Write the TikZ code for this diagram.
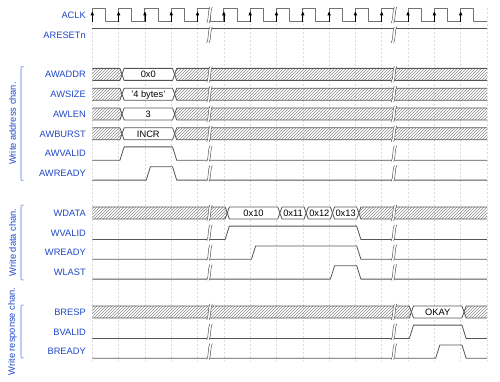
\documentclass[tikz,border=0pt]{standalone}
\usepackage{fontspec}
\setmainfont{Liberation Sans}
\usetikzlibrary{arrows.meta,patterns}

\definecolor{labelblue}{RGB}{30,70,200}
\definecolor{bracketblue}{RGB}{150,180,235}
\definecolor{wavegray}{RGB}{85,85,85}
\definecolor{clockgray}{RGB}{115,115,115}
\definecolor{hatchgray}{RGB}{140,140,140}

% clock period, first and last x of the waves (pt)
\def\per{26.31}
\def\xs{92.3}
\def\xe{487}

% 1-bit signal: row, rising edge, falling edge
\newcommand{\bitwave}[3]{%
  \pgfmathsetmacro\yc{15+19.8*#1}
  \pgfmathsetmacro\xa{\xs+\per*#2+1.3}
  \pgfmathsetmacro\xb{\xs+\per*#3+1.3}
  \draw[wave] (\xs,\yc+6.7) -- (\xa,\yc+6.7) -- (\xa+4.2,\yc-6.7)
    -- (\xb,\yc-6.7) -- (\xb+4.2,\yc+6.7) -- (\xe,\yc+6.7);
}
% hatched bus from the start up to an edge
\newcommand{\busleft}[2]{%
  \pgfmathsetmacro\yc{15+19.8*#1}
  \pgfmathsetmacro\xa{\xs+\per*#2+3.4}
  \fill[hatch] (\xs,\yc-6) -- (\xa-2.1,\yc-6) -- (\xa,\yc) -- (\xa-2.1,\yc+6) -- (\xs,\yc+6) -- cycle;
  \draw[bus] (\xs,\yc-6) -- (\xa-2.1,\yc-6) -- (\xa,\yc) -- (\xa-2.1,\yc+6) -- (\xs,\yc+6);
}
% hatched bus from an edge to the end
\newcommand{\busright}[2]{%
  \pgfmathsetmacro\yc{15+19.8*#1}
  \pgfmathsetmacro\xa{\xs+\per*#2+3.4}
  \fill[hatch] (\xe,\yc-6) -- (\xa+2.1,\yc-6) -- (\xa,\yc) -- (\xa+2.1,\yc+6) -- (\xe,\yc+6) -- cycle;
  \draw[bus] (\xe,\yc-6) -- (\xa+2.1,\yc-6) -- (\xa,\yc) -- (\xa+2.1,\yc+6) -- (\xe,\yc+6);
}
% bus value: row, from edge, to edge, name, text
\newcommand{\busval}[5]{%
  \pgfmathsetmacro\yc{15+19.8*#1}
  \pgfmathsetmacro\xa{\xs+\per*#2+3.4}
  \pgfmathsetmacro\xb{\xs+\per*#3+3.4}
  \draw[bus,fill=white] (\xa,\yc) -- (\xa+2.1,\yc-6) -- (\xb-2.1,\yc-6) -- (\xb,\yc)
    -- (\xb-2.1,\yc+6) -- (\xa+2.1,\yc+6) -- cycle;
  \node[valtext] (#4) at ({(\xa+\xb)/2},\yc+3.3) {#5};
}
% break mark: x, row
\newcommand{\brkmark}[2]{%
  \pgfmathsetmacro\yc{15+19.8*#2}
  \fill[white] (#1-3,\yc+8) .. controls (#1-1,\yc+4) and (#1-2,\yc-4) .. (#1,\yc-8)
    -- (#1+2.4,\yc-8) .. controls (#1+0.4,\yc-4) and (#1+1.4,\yc+4) .. (#1-0.6,\yc+8) -- cycle;
  \draw[brk] (#1-3,\yc+8) .. controls (#1-1,\yc+4) and (#1-2,\yc-4) .. (#1,\yc-8);
  \draw[brk] (#1-0.6,\yc+8) .. controls (#1+1.4,\yc+4) and (#1+0.4,\yc-4) .. (#1+2.4,\yc-8);
}

\begin{document}
\begin{tikzpicture}[x=1pt,y=-1pt,
  siglabel/.style={anchor=base east,inner sep=0pt,text=labelblue,font=\fontsize{9.3}{10}\selectfont},
  valtext/.style={anchor=base,inner sep=0pt,font=\fontsize{9.3}{10}\selectfont},
  grouplabel/.style={rotate=90,inner sep=0pt,text=labelblue,font=\fontsize{9.3}{10}\selectfont},
  bracket/.style={draw=bracketblue,line width=1.1pt},
  gridline/.style={draw=gray!28,line width=0.5pt,dash pattern=on 2pt off 2pt},
  wave/.style={draw=wavegray,line width=0.8pt,line join=round},
  bus/.style={draw=wavegray,line width=0.8pt,line join=round},
  hatch/.style={pattern=north east lines,pattern color=hatchgray},
  clk/.style={draw=clockgray,line width=0.9pt,line join=round},
  clkarrow/.style={draw=black,line width=0.6pt,-{Triangle[length=3.8pt,width=3.2pt]}},
  brk/.style={draw=wavegray,line width=0.5pt}]
  \useasboundingbox (0,0) rectangle (500,382);

  % grid at the rising edges
  \foreach \k in {0,...,15}
    \draw[gridline] ({\xs+\per*\k},8) -- ({\xs+\per*\k},361);

  % signal names
  \node[siglabel] (l-aclk) at (86,15+3.3) {ACLK};
  \node[siglabel] (l-aresetn) at (86,34.8+3.3) {ARESETn};
  \node[siglabel] (l-awaddr) at (86,74.4+3.3) {AWADDR};
  \node[siglabel] (l-awsize) at (86,94.2+3.3) {AWSIZE};
  \node[siglabel] (l-awlen) at (86,114+3.3) {AWLEN};
  \node[siglabel] (l-awburst) at (86,133.8+3.3) {AWBURST};
  \node[siglabel] (l-awvalid) at (86,153.6+3.3) {AWVALID};
  \node[siglabel] (l-awready) at (86,173.4+3.3) {AWREADY};
  \node[siglabel] (l-wdata) at (86,213+3.3) {WDATA};
  \node[siglabel] (l-wvalid) at (86,232.8+3.3) {WVALID};
  \node[siglabel] (l-wready) at (86,252.6+3.3) {WREADY};
  \node[siglabel] (l-wlast) at (86,272.4+3.3) {WLAST};
  \node[siglabel] (l-bresp) at (86,312+3.3) {BRESP};
  \node[siglabel] (l-bvalid) at (86,331.8+3.3) {BVALID};
  \node[siglabel] (l-bready) at (86,351.6+3.3) {BREADY};

  % channel groups
  \draw[bracket] (23.5,66.5) .. controls (21,66.5) .. (21,69.5) -- (21,177.5) .. controls (21,180.5) .. (23.5,180.5);
  \node[grouplabel] (g-addr) at (12.5,123.5) {Write address chan.};
  \draw[bracket] (23.5,205) .. controls (21,205) .. (21,208) -- (21,277) .. controls (21,280) .. (23.5,280);
  \node[grouplabel] (g-data) at (12.5,242.5) {Write data chan.};
  \draw[bracket] (23.5,305) .. controls (21,305) .. (21,308) -- (21,355) .. controls (21,358) .. (23.5,358);
  \node[grouplabel] (g-resp) at (12.5,331.5) {Write response chan.};

  % clock
  \foreach \k in {0,...,14} {
    \pgfmathsetmacro\xa{\xs+\per*\k}
    \draw[clk] (\xa,21.7) -- (\xa,8.3) -- (\xa+\per/2,8.3) -- (\xa+\per/2,21.7) -- (\xa+\per,21.7);
    \draw[clkarrow] (\xa,21.7) -- (\xa,11.5);
  }
  % reset
  \draw[wave] (\xs,28.1) -- (\xe,28.1);

  % write address channel
  \busleft{3}{1} \busval{3}{1}{3}{v-awaddr}{0x0} \busright{3}{3}
  \busleft{4}{1} \busval{4}{1}{3}{v-awsize}{'4 bytes'} \busright{4}{3}
  \busleft{5}{1} \busval{5}{1}{3}{v-awlen}{3} \busright{5}{3}
  \busleft{6}{1} \busval{6}{1}{3}{v-awburst}{INCR} \busright{6}{3}
  \bitwave{7}{1}{3}
  \bitwave{8}{2}{3}

  % write data channel
  \busleft{10}{5}
  \busval{10}{5}{7}{v-d0}{0x10}
  \busval{10}{7}{8}{v-d1}{0x11}
  \busval{10}{8}{9}{v-d2}{0x12}
  \busval{10}{9}{10}{v-d3}{0x13}
  \busright{10}{10}
  \bitwave{11}{5}{10}
  \bitwave{12}{6}{10}
  \bitwave{13}{9}{10}

  % write response channel
  \busleft{15}{12} \busval{15}{12}{14}{v-bresp}{OKAY} \busright{15}{14}
  \bitwave{16}{12}{14}
  \bitwave{17}{13}{14}

  % breaks
  \foreach \r in {0,1,3,4,5,6,7,8,10,11,12,13,15,16,17} {
    \brkmark{209.8}{\r}
    \brkmark{394.3}{\r}
  }
\end{tikzpicture}
\end{document}
